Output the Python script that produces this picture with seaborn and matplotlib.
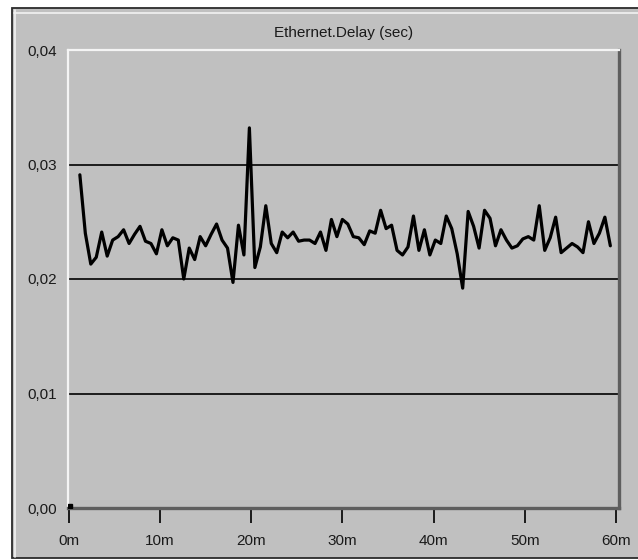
import numpy as np
import pandas as pd
import matplotlib
matplotlib.use("Agg")
import matplotlib.pyplot as plt
import seaborn as sns
from matplotlib.patches import Rectangle
from matplotlib.lines import Line2D

# ---------------- data ----------------
title = "Ethernet.Delay (sec)"
x_ticks = [0, 10, 20, 30, 40, 50, 60]
x_tick_labels = ["0m", "10m", "20m", "30m", "40m", "50m", "60m"]
y_ticks = [0.00, 0.01, 0.02, 0.03, 0.04]
y_tick_labels = ["0,00", "0,01", "0,02", "0,03", "0,04"]

start_min = 1.2      # first sample (minutes)
step_min = 0.6       # sampling interval (minutes)
delay = [
    0.0291, 0.0240, 0.0213, 0.0219, 0.0241, 0.0220, 0.0234, 0.0237, 0.0243, 0.0231,
    0.0239, 0.0246, 0.0233, 0.0231, 0.0222, 0.0243, 0.0229, 0.0236, 0.0234, 0.0200,
    0.0227, 0.0217, 0.0237, 0.0229, 0.0239, 0.0248, 0.0234, 0.0227, 0.0197, 0.0247,
    0.0221, 0.0332, 0.0210, 0.0228, 0.0264, 0.0231, 0.0223, 0.0241, 0.0236, 0.0241,
    0.0233, 0.0234, 0.0234, 0.0231, 0.0241, 0.0225, 0.0252, 0.0237, 0.0252, 0.0248,
    0.0237, 0.0236, 0.0230, 0.0242, 0.0240, 0.0260, 0.0244, 0.0247, 0.0225, 0.0221,
    0.0228, 0.0255, 0.0225, 0.0243, 0.0221, 0.0234, 0.0231, 0.0255, 0.0244, 0.0222,
    0.0192, 0.0259, 0.0246, 0.0227, 0.0260, 0.0253, 0.0229, 0.0243, 0.0234, 0.0227,
    0.0229, 0.0235, 0.0237, 0.0234, 0.0264, 0.0225, 0.0236, 0.0254, 0.0223, 0.0227,
    0.0231, 0.0228, 0.0223, 0.0250, 0.0231, 0.0240, 0.0254, 0.0229,
]
time_min = start_min + step_min * np.arange(len(delay))
origin_time = [0.15]
origin_delay = [0.0002]

df = pd.DataFrame({"time": time_min, "delay": delay})

# ---------------- style ----------------
sns.set_style("white")
plt.rcParams["font.family"] = ["Liberation Sans", "DejaVu Sans"]
GRAY = "#c0c0c0"

W, H = 638, 560
fig = plt.figure(figsize=(W / 100, H / 100), dpi=100, facecolor="white")

# outer panel with dark border and light bevel
fig.patches.append(Rectangle((12 / W, 2 / H), 1.0, (558 - 8) / H, transform=fig.transFigure,
                             facecolor=GRAY, edgecolor="#2b2b2b", linewidth=1.3, zorder=-10))
fig.lines.append(Line2D([14.5 / W, 14.5 / W], [3 / H, (H - 10) / H], transform=fig.transFigure,
                        color="#f2f2f2", linewidth=1.2, zorder=-5))
fig.lines.append(Line2D([14 / W, 1.0], [(H - 13) / H, (H - 13) / H], transform=fig.transFigure,
                        color="#f2f2f2", linewidth=1.2, zorder=-5))

ax = fig.add_axes([68 / W, (H - 508) / H, (619 - 68) / W, (508 - 50) / H])
ax.set_zorder(5)
ax.set_facecolor(GRAY)

for yv in y_ticks[1:-1]:
    ax.axhline(yv, color="black", linewidth=1.2, zorder=1)

sns.lineplot(data=df, x="time", y="delay", ax=ax, color="black", linewidth=2.3, zorder=3)
ax.plot(origin_time, origin_delay, marker="s", markersize=2.5, color="black", linestyle="none", zorder=3)

ax.set_xlim(-0.1, 60.35)
ax.set_ylim(0, 0.04)
ax.set_xticks(x_ticks)
ax.set_xticklabels(x_tick_labels)
ax.set_yticks(y_ticks)
ax.set_yticklabels(y_tick_labels)
ax.set_xlabel("")
ax.set_ylabel("")

ax.tick_params(axis="x", direction="out", length=10.5, width=1.4, color="#1a1a1a",
               labelsize=11, labelcolor="#1a1a1a", pad=8.5, bottom=True)
ax.tick_params(axis="y", length=0, labelsize=11, labelcolor="#1a1a1a", pad=8, left=True)
for lbl in ax.get_yticklabels():
    lbl.set_verticalalignment("center_baseline")

ax.spines["left"].set_color("#f4f4f4")
ax.spines["top"].set_color("#f4f4f4")
ax.spines["left"].set_linewidth(1.6)
ax.spines["top"].set_linewidth(1.6)
ax.spines["right"].set_color("#5e5e5e")
ax.spines["bottom"].set_color("#5e5e5e")
ax.spines["right"].set_linewidth(2.4)
ax.spines["bottom"].set_linewidth(2.4)
for s in ax.spines.values():
    s.set_visible(True)

ax.set_title(title, fontsize=11, color="#1a1a1a", pad=9)

fig.savefig("out.png", dpi=100, facecolor="white")
